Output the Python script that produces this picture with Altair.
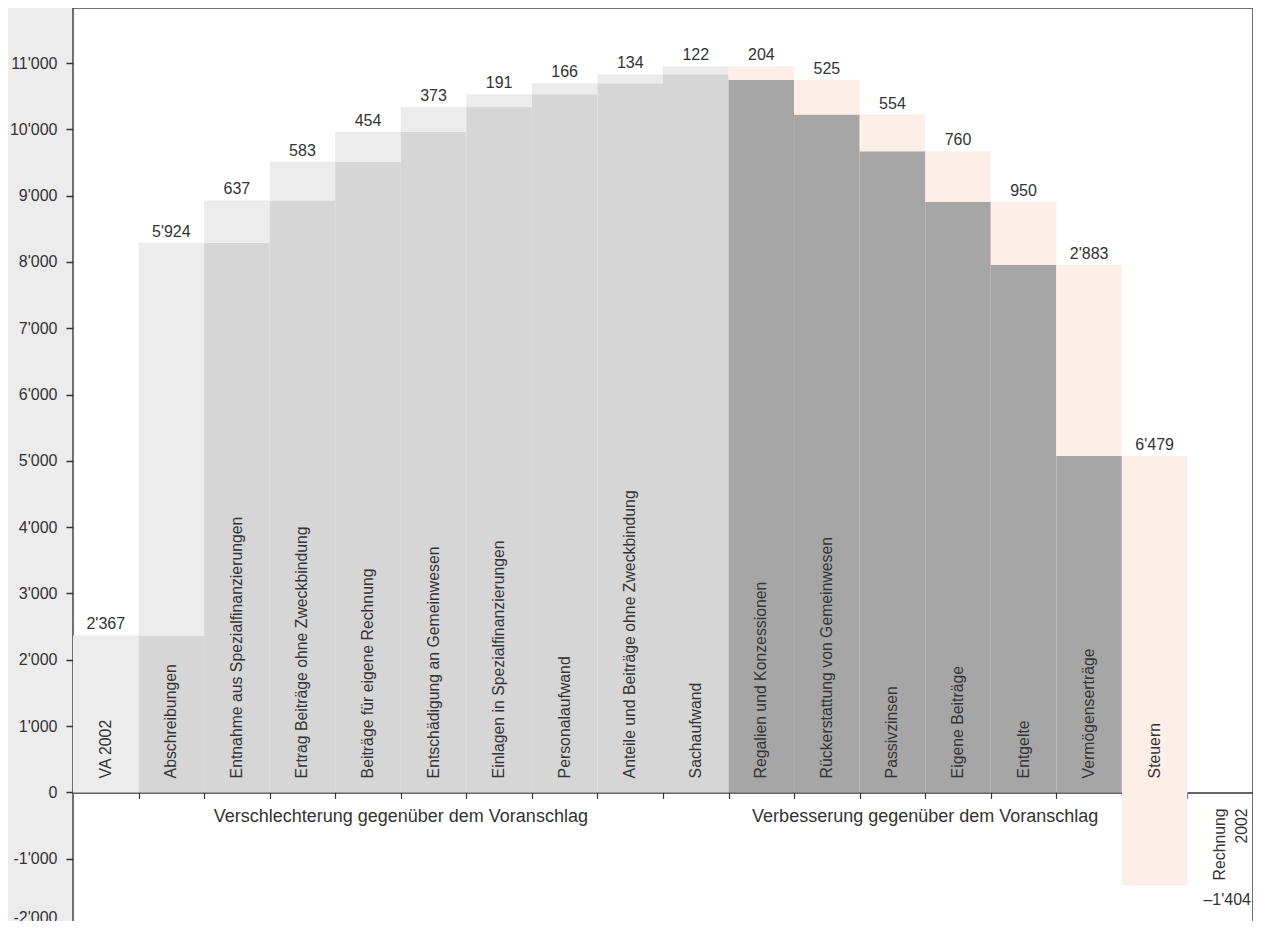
import altair as alt
import pandas as pd

# ---------------- data ----------------
categories = ["VA 2002", "Abschreibungen", "Entnahme aus Spezialfinanzierungen",
              "Ertrag Beiträge ohne Zweckbindung", "Beiträge für eigene Rechnung",
              "Entschädigung an Gemeinwesen", "Einlagen in Spezialfinanzierungen",
              "Personalaufwand", "Anteile und Beiträge ohne Zweckbindung", "Sachaufwand",
              "Regalien und Konzessionen", "Rückerstattung von Gemeinwesen", "Passivzinsen",
              "Eigene Beiträge", "Entgelte", "Vermögenserträge", "Steuern"]
changes = [2367, 5924, 637, 583, 454, 373, 191, 166, 134, 122,
           -204, -525, -554, -760, -950, -2883, -6479]
value_labels = ["2'367", "5'924", "637", "583", "454", "373", "191", "166", "134", "122",
                "204", "525", "554", "760", "950", "2'883", "6'479"]
final_category = "Rechnung\n2002"
final_value = -1404
final_value_label = "\u20131'404"
group_labels = ["Verschlechterung gegenüber dem Voranschlag",
                "Verbesserung gegenüber dem Voranschlag"]
group_centers = [5, 13]
y_ticks = list(range(-2000, 12000, 1000))
x_ticks = list(range(1, 18))

# ---------------- styling ----------------
FONT = "Liberation Sans"
TXT = "#333333"
Y_MIN, Y_MAX = -2000, 11830
W, H = 1180, 917
kinds = ["start", "base_up", "up", "base_down", "down"]
kind_colors = ["#ececec", "#d6d6d6", "#ececec", "#a6a6a6", "#fdeee7"]

# ---------------- build tables ----------------
rects, vlabels, clabels = [], [], []
cum = 0
for i, (cat, d, lab) in enumerate(zip(categories, changes, value_labels)):
    start, end = cum, cum + d
    cum = end
    if i == 0:
        rects.append(dict(x0=i, x1=i + 1, y0=0, y1=end, kind="start"))
    elif d > 0:
        rects.append(dict(x0=i, x1=i + 1, y0=0, y1=start, kind="base_up"))
        rects.append(dict(x0=i, x1=i + 1, y0=start, y1=end, kind="up"))
    else:
        if end > 0:
            rects.append(dict(x0=i, x1=i + 1, y0=0, y1=end, kind="base_down"))
        rects.append(dict(x0=i, x1=i + 1, y0=end, y1=start, kind="down"))
    vlabels.append(dict(x=i + 0.5, y=max(start, end), t=lab))
    clabels.append(dict(x=i + 0.5, y=0, t=cat))

rect_df = pd.DataFrame(rects)
vlab_df = pd.DataFrame(vlabels)
clab_df = pd.DataFrame(clabels)
final_df = pd.DataFrame([dict(x=len(categories) + 0.5, y=0, t=final_category,
                              v=final_value, vt=final_value_label)])
group_df = pd.DataFrame(dict(x=group_centers, y=[0, 0], t=group_labels))

x_scale = alt.Scale(domain=[0, len(categories) + 1], nice=False, zero=False)
y_scale = alt.Scale(domain=[Y_MIN, Y_MAX], nice=False, zero=False)
zero_offset = -H * (0 - Y_MIN) / (Y_MAX - Y_MIN)

x_axis = alt.Axis(values=x_ticks, labels=False, title=None, grid=False,
                  tickSize=6, tickColor=TXT, tickWidth=1.2,
                  domain=True, domainColor=TXT, domainWidth=1.5,
                  offset=zero_offset)
y_axis = alt.Axis(values=y_ticks, title=None, grid=False, domain=False,
                  tickSize=7, tickColor=TXT, tickWidth=1.5,
                  labelFont=FONT, labelFontSize=16, labelColor=TXT, labelPadding=9,
                  labelBaseline={"condition": {"test": "datum.value == %d" % Y_MIN,
                                               "value": "bottom"},
                                 "value": "middle"},
                  labelExpr="datum.value == 0 ? '0' : (datum.value < 0 ? '-' : '') + "
                            "floor(abs(datum.value) / 1000) + \"'000\"")


def X(field):
    return alt.X(field, type="quantitative", scale=x_scale, axis=x_axis)


def Y(field):
    return alt.Y(field, type="quantitative", scale=y_scale, axis=y_axis)


bars = alt.Chart(rect_df).mark_rect(strokeWidth=0).encode(
    x=X("x0"), x2="x1", y=Y("y0"), y2="y1",
    color=alt.Color("kind:N", scale=alt.Scale(domain=kinds, range=kind_colors), legend=None),
)

values = alt.Chart(vlab_df).mark_text(
    font=FONT, fontSize=16, color=TXT, baseline="alphabetic", dy=-6
).encode(x=X("x"), y=Y("y"), text="t:N")

cats = alt.Chart(clab_df).mark_text(
    font=FONT, fontSize=15.8, color=TXT, angle=270, align="left", baseline="middle", dx=14
).encode(x=X("x"), y=Y("y"), text="t:N")

final_cat = alt.Chart(final_df).mark_text(
    font=FONT, fontSize=15.8, color=TXT, angle=270, align="right", baseline="middle",
    dx=-16, lineBreak="\n", lineHeight=22
).encode(x=X("x"), y=Y("y"), text="t:N")

final_val = alt.Chart(final_df).mark_text(
    font=FONT, fontSize=16, color=TXT, baseline="top", dy=7, dx=7
).encode(x=X("x"), y=Y("v"), text="vt:N")

groups = alt.Chart(group_df).mark_text(
    font=FONT, fontSize=18, color=TXT, baseline="alphabetic", dy=30
).encode(x=X("x"), y=Y("y"), text="t:N")

chart = alt.layer(bars, values, cats, final_cat, final_val, groups).properties(
    width=W, height=H,
    background="#ececec",
    autosize=alt.AutoSizeParams(type="none"),
    padding={"left": 65, "top": 0, "right": 0, "bottom": -4},
).configure_view(fill="white", stroke="#444444", strokeWidth=1.5)

chart.save("out.html", embed_options={"renderer": "svg", "actions": False})
